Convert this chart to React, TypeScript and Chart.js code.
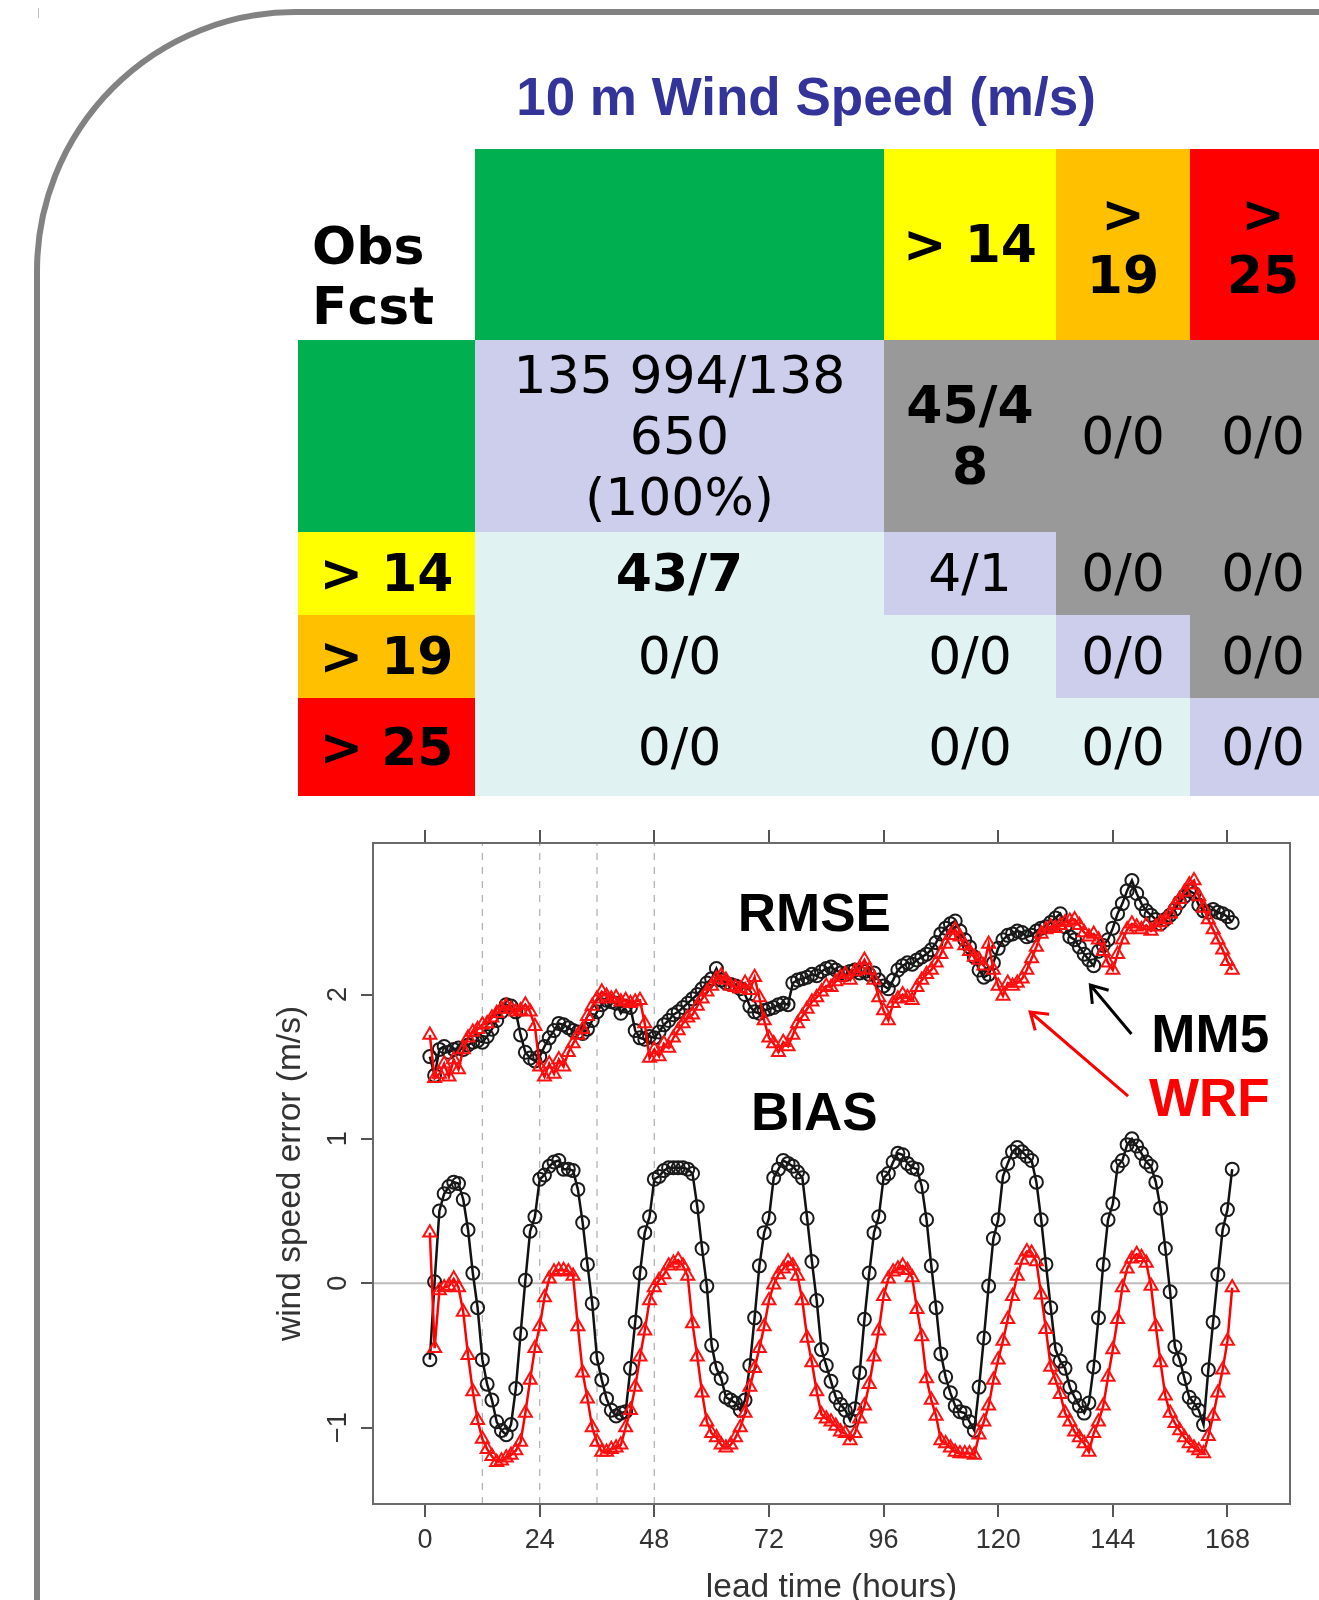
import React, { useEffect, useRef } from "react";
import { Chart, registerables } from "chart.js";

Chart.register(...registerables);

// ---------- data ----------
const leadHours = Array.from({ length: 169 }, (_, i) => i + 1);

const biasMM5 = [
  -0.53, 0.01, 0.50, 0.62, 0.67, 0.70, 0.69, 0.58, 0.37, 0.07, -0.17, -0.53, -0.70, -0.81, -0.96, -1.02, -1.05, -0.98, -0.73, -0.35, 0.02, 0.36, 0.46, 0.72,
  0.75, 0.81, 0.84, 0.85, 0.79, 0.79, 0.78, 0.65, 0.42, 0.13, -0.14, -0.52, -0.67, -0.80, -0.88, -0.92, -0.90, -0.89, -0.59, -0.27, 0.07, 0.35, 0.46, 0.72,
  0.74, 0.78, 0.80, 0.80, 0.80, 0.80, 0.79, 0.76, 0.53, 0.24, -0.02, -0.43, -0.59, -0.66, -0.79, -0.81, -0.83, -0.88, -0.81, -0.57, -0.24, 0.12, 0.35, 0.45,
  0.73, 0.79, 0.85, 0.83, 0.81, 0.77, 0.73, 0.45, 0.15, -0.12, -0.46, -0.57, -0.68, -0.79, -0.84, -0.88, -0.95, -0.87, -0.62, -0.25, 0.07, 0.35, 0.46, 0.73,
  0.76, 0.84, 0.90, 0.89, 0.83, 0.80, 0.79, 0.67, 0.44, 0.12, -0.17, -0.49, -0.65, -0.76, -0.85, -0.89, -0.90, -0.96, -1.02, -0.72, -0.38, -0.02, 0.31, 0.44,
  0.74, 0.83, 0.91, 0.94, 0.91, 0.88, 0.85, 0.70, 0.44, 0.13, -0.17, -0.46, -0.54, -0.59, -0.72, -0.79, -0.85, -0.90, -0.83, -0.58, -0.24, 0.13, 0.44, 0.55,
  0.81, 0.85, 0.96, 1.00, 0.95, 0.90, 0.84, 0.81, 0.70, 0.52, 0.24, -0.06, -0.44, -0.53, -0.66, -0.79, -0.83, -0.88, -0.98, -0.60, -0.27, 0.06, 0.37, 0.51,
  0.79,
];

const biasWRF = [
  0.35, -0.45, -0.05, -0.03, -0.02, 0.03, -0.03, -0.20, -0.50, -0.75, -0.95, -1.08, -1.15, -1.20, -1.24, -1.23, -1.21, -1.19, -1.16, -1.10, -0.90, -0.67, -0.45, -0.30,
  -0.10, 0.03, 0.08, 0.09, 0.09, 0.08, 0.05, -0.30, -0.62, -0.80, -1.00, -1.10, -1.17, -1.17, -1.15, -1.14, -1.12, -1.00, -0.88, -0.72, -0.51, -0.33, -0.12, -0.03,
  0.02, 0.06, 0.12, 0.14, 0.16, 0.12, 0.05, -0.28, -0.51, -0.76, -0.96, -1.04, -1.07, -1.12, -1.14, -1.12, -1.07, -1.00, -0.90, -0.72, -0.59, -0.45, -0.30, -0.12,
  -0.01, 0.06, 0.10, 0.15, 0.12, 0.05, -0.12, -0.38, -0.55, -0.75, -0.91, -0.94, -0.96, -0.99, -1.03, -1.04, -1.09, -1.04, -0.94, -0.85, -0.70, -0.51, -0.33, -0.09,
  0.03, 0.08, 0.10, 0.12, 0.09, 0.04, -0.18, -0.37, -0.66, -0.81, -0.92, -1.09, -1.11, -1.14, -1.17, -1.18, -1.18, -1.18, -1.19, -1.05, -0.96, -0.85, -0.67, -0.53,
  -0.40, -0.25, -0.09, 0.05, 0.16, 0.22, 0.21, 0.15, -0.08, -0.32, -0.58, -0.67, -0.77, -0.90, -0.96, -1.03, -1.07, -1.11, -1.17, -1.04, -0.96, -0.85, -0.65, -0.46,
  -0.25, -0.03, 0.10, 0.17, 0.20, 0.18, 0.14, -0.02, -0.30, -0.55, -0.78, -0.90, -0.97, -1.02, -1.07, -1.11, -1.14, -1.16, -1.18, -1.06, -0.92, -0.76, -0.60, -0.40,
  -0.03,
];

const rmseMM5 = [
  1.57, 1.44, 1.62, 1.64, 1.60, 1.62, 1.63, 1.62, 1.65, 1.67, 1.68, 1.67, 1.71, 1.76, 1.82, 1.88, 1.93, 1.92, 1.88, 1.72, 1.60, 1.56, 1.54, 1.57,
  1.64, 1.70, 1.75, 1.80, 1.79, 1.77, 1.75, 1.74, 1.73, 1.76, 1.82, 1.88, 1.93, 1.96, 1.95, 1.94, 1.87, 1.92, 1.91, 1.75, 1.70, 1.69, 1.71, 1.70,
  1.74, 1.79, 1.82, 1.86, 1.88, 1.91, 1.94, 1.97, 2.00, 2.04, 2.08, 2.11, 2.18, 2.10, 2.08, 2.07, 2.06, 2.04, 2.00, 1.92, 1.88, 1.87, 1.89, 1.90,
  1.91, 1.93, 1.94, 1.93, 2.08, 2.10, 2.11, 2.12, 2.14, 2.13, 2.16, 2.18, 2.19, 2.17, 2.15, 2.14, 2.16, 2.17, 2.15, 2.16, 2.14, 2.15, 2.10, 2.06,
  2.04, 2.10, 2.17, 2.20, 2.22, 2.21, 2.24, 2.26, 2.28, 2.31, 2.36, 2.42, 2.46, 2.49, 2.51, 2.44, 2.38, 2.33, 2.26, 2.17, 2.12, 2.14, 2.22, 2.32,
  2.38, 2.41, 2.42, 2.44, 2.43, 2.40, 2.41, 2.44, 2.46, 2.47, 2.50, 2.53, 2.56, 2.47, 2.40, 2.38, 2.33, 2.28, 2.24, 2.20, 2.30, 2.34, 2.38, 2.46,
  2.56, 2.63, 2.72, 2.79, 2.70, 2.63, 2.58, 2.55, 2.52, 2.49, 2.52, 2.55, 2.59, 2.64, 2.68, 2.72, 2.70, 2.62, 2.58, 2.57, 2.59, 2.57, 2.56, 2.54,
  2.50,
];

const rmseWRF = [
  1.72, 1.42, 1.45, 1.52, 1.43, 1.55, 1.48, 1.62, 1.70, 1.74, 1.76, 1.79, 1.80, 1.84, 1.87, 1.90, 1.92, 1.90, 1.88, 1.89, 1.93, 1.88, 1.78, 1.50,
  1.43, 1.52, 1.45, 1.55, 1.50, 1.60, 1.66, 1.72, 1.76, 1.85, 1.92, 1.97, 2.02, 1.99, 1.97, 1.98, 1.95, 1.96, 1.94, 1.95, 1.96, 1.80, 1.56, 1.62,
  1.57, 1.66, 1.63, 1.70, 1.75, 1.80, 1.84, 1.86, 1.92, 1.97, 2.02, 2.06, 2.11, 2.13, 2.10, 2.06, 2.05, 2.04, 2.08, 2.03, 2.12, 1.98, 1.82, 1.70,
  1.66, 1.60, 1.67, 1.64, 1.72, 1.80, 1.85, 1.90, 1.95, 1.98, 2.02, 2.06, 2.05, 2.09, 2.12, 2.14, 2.10, 2.16, 2.18, 2.24, 2.17, 2.10, 1.98, 1.89,
  1.82, 1.94, 1.97, 2.00, 1.98, 1.96, 2.05, 2.10, 2.14, 2.17, 2.22, 2.28, 2.35, 2.41, 2.45, 2.40, 2.34, 2.30, 2.26, 2.24, 2.20, 2.35, 2.17, 2.06,
  1.99, 2.08, 2.06, 2.08, 2.11, 2.17, 2.25, 2.33, 2.42, 2.45, 2.47, 2.46, 2.48, 2.50, 2.51, 2.52, 2.48, 2.43, 2.40, 2.42, 2.38, 2.30, 2.22, 2.17,
  2.28, 2.38, 2.45, 2.49, 2.47, 2.45, 2.48, 2.44, 2.47, 2.50, 2.52, 2.56, 2.62, 2.66, 2.71, 2.76, 2.79, 2.68, 2.60, 2.52, 2.45, 2.38, 2.31, 2.23,
  2.17,
];

const xTickValues = [0, 24, 48, 72, 96, 120, 144, 168];
const yTickValues = [-1, 0, 1, 2];
const refHours = [12, 24, 36, 48];
const X_MIN = -10.9;
const X_MAX = 181.1;
const Y_MIN = -1.53;
const Y_MAX = 3.05;

const xTitle = "lead time (hours)";
const yTitle = "wind speed error (m/s)";

const chartLabels = [
  { text: "RMSE", x: 81.5, y: 2.54, color: "#000000" },
  { text: "BIAS", x: 81.5, y: 1.16, color: "#000000" },
  { text: "MM5", x: 164.4, y: 1.7, color: "#000000" },
  { text: "WRF", x: 164.2, y: 1.26, color: "#ff0000" },
];
const arrowNotes = [
  { fromX: 147.9, fromY: 1.726, toX: 139.3, toY: 2.066, color: "#000000" },
  { fromX: 147.2, fromY: 1.296, toX: 126.7, toY: 1.879, color: "#ff0000" },
];

const pageTitle = "10 m Wind Speed (m/s)";
const cornerText = "Obs\nFcst";
const obsHeaders = ["", "> 14", ">\n19", ">\n25"];
const fcstHeaders = ["", "> 14", "> 19", "> 25"];
const cellValues = [
  ["135 994/138\n650\n(100%)", "45/4\n8", "0/0", "0/0"],
  ["43/7", "4/1", "0/0", "0/0"],
  ["0/0", "0/0", "0/0", "0/0"],
  ["0/0", "0/0", "0/0", "0/0"],
];

// ---------- styling / layout ----------
const levelColors = ["#00B050", "#FFFF00", "#FFC000", "#FF0000"];
const colEdges = [298, 475, 884, 1056, 1190, 1336];
const rowEdges = [149, 340, 532, 615, 698, 796];
const boldCells = new Set(["0-1", "1-0"]);
const SANS = "'Liberation Sans', Arial, sans-serif";
const TABLE_FONT = "'DejaVu Sans', Verdana, sans-serif";

const toXY = (vals: number[]) => vals.map((v, i) => ({ x: leadHours[i], y: v }));

const overlayPlugin = {
  id: "overlay",
  afterDraw(chart: any) {
    const { ctx, chartArea, scales } = chart;
    const xs = scales.x;
    const ys = scales.y;
    ctx.save();
    ctx.strokeStyle = "#6a6a6a";
    ctx.lineWidth = 2;
    ctx.strokeRect(chartArea.left, chartArea.top, chartArea.right - chartArea.left, chartArea.bottom - chartArea.top);

    ctx.font = `bold 53px ${SANS}`;
    ctx.textAlign = "center";
    ctx.textBaseline = "middle";
    for (const l of chartLabels) {
      ctx.fillStyle = l.color;
      ctx.fillText(l.text, xs.getPixelForValue(l.x), ys.getPixelForValue(l.y));
    }

    for (const a of arrowNotes) {
      const x1 = xs.getPixelForValue(a.fromX);
      const y1 = ys.getPixelForValue(a.fromY);
      const x2 = xs.getPixelForValue(a.toX);
      const y2 = ys.getPixelForValue(a.toY);
      const ang = Math.atan2(y1 - y2, x1 - x2);
      const head = 19;
      const spread = (34 * Math.PI) / 180;
      ctx.strokeStyle = a.color;
      ctx.lineWidth = 3;
      ctx.lineCap = "butt";
      ctx.beginPath();
      ctx.moveTo(x1, y1);
      ctx.lineTo(x2, y2);
      ctx.moveTo(x2 + head * Math.cos(ang - spread), y2 + head * Math.sin(ang - spread));
      ctx.lineTo(x2, y2);
      ctx.lineTo(x2 + head * Math.cos(ang + spread), y2 + head * Math.sin(ang + spread));
      ctx.stroke();
    }
    ctx.restore();
  },
};

function buildConfig(): any {
  const red = {
    borderColor: "#ff0000",
    borderWidth: 2.5,
    pointStyle: "triangle",
    pointRadius: 7.5,
    pointBorderWidth: 2,
    pointBorderColor: "#ff1010",
    pointBackgroundColor: "rgba(0,0,0,0)",
    tension: 0,
    fill: false,
  };
  const black = {
    borderColor: "#111111",
    borderWidth: 2.5,
    pointStyle: "circle",
    pointRadius: 6.5,
    pointBorderWidth: 2,
    pointBorderColor: "#1a1a1a",
    pointBackgroundColor: "rgba(0,0,0,0)",
    tension: 0,
    fill: false,
  };
  const refLines = refHours.map((h) => ({
    label: `ref ${h}`,
    data: [
      { x: h, y: Y_MIN },
      { x: h, y: Y_MAX },
    ],
    borderColor: "#b4b4b4",
    borderWidth: 1.3,
    borderDash: [7, 7],
    pointRadius: 0,
    fill: false,
  }));
  const zeroLine = {
    label: "zero",
    data: [
      { x: X_MIN, y: 0 },
      { x: X_MAX, y: 0 },
    ],
    borderColor: "#bdbdbd",
    borderWidth: 2,
    pointRadius: 0,
    fill: false,
  };
  const tickFont = { family: SANS, size: 27 };
  const fixedTicks = (vals: number[]) => (scale: any) => {
    scale.ticks = vals.map((v) => ({ value: v }));
  };
  return {
    type: "line",
    data: {
      datasets: [
        { label: "WRF RMSE", data: toXY(rmseWRF), ...red },
        { label: "WRF BIAS", data: toXY(biasWRF), ...red },
        { label: "MM5 RMSE", data: toXY(rmseMM5), ...black },
        { label: "MM5 BIAS", data: toXY(biasMM5), ...black },
        ...refLines,
        zeroLine,
      ],
    },
    options: {
      animation: false,
      responsive: false,
      maintainAspectRatio: false,
      events: [],
      layout: { padding: { top: 29, right: 29, bottom: 0, left: 0 } },
      plugins: { legend: { display: false }, tooltip: { enabled: false } },
      scales: {
        x: {
          type: "linear",
          position: "bottom",
          min: X_MIN,
          max: X_MAX,
          afterBuildTicks: fixedTicks(xTickValues),
          afterFit: (s: any) => {
            s.height = 126;
          },
          border: { display: false },
          grid: { display: true, drawOnChartArea: false, drawTicks: true, tickLength: 13, color: "#555555", lineWidth: 2 },
          ticks: { font: tickFont, color: "#333333", padding: 7, autoSkip: false, maxRotation: 0, minRotation: 0, callback: (v: any) => String(v) },
          title: { display: true, text: xTitle, font: { family: SANS, size: 33.5 }, color: "#333333", padding: { top: 0, bottom: 22 } },
        },
        xTop: {
          type: "linear",
          position: "top",
          min: X_MIN,
          max: X_MAX,
          afterBuildTicks: fixedTicks(xTickValues),
          afterFit: (s: any) => {
            s.height = 14;
          },
          border: { display: false },
          grid: { display: true, drawOnChartArea: false, drawTicks: true, tickLength: 13, color: "#555555", lineWidth: 2 },
          ticks: { display: false },
        },
        y: {
          type: "linear",
          position: "left",
          min: Y_MIN,
          max: Y_MAX,
          afterBuildTicks: fixedTicks(yTickValues),
          afterFit: (s: any) => {
            s.width = 123;
          },
          border: { display: false },
          grid: { display: true, drawOnChartArea: false, drawTicks: true, tickLength: 12, color: "#555555", lineWidth: 2 },
          ticks: {
            font: tickFont,
            color: "#333333",
            minRotation: 90,
            maxRotation: 90,
            crossAlign: "center",
            padding: 7,
            autoSkip: false,
            callback: (v: any) => (v < 0 ? "\u2212" + Math.abs(v) : String(v)),
          },
          title: { display: true, text: yTitle, font: { family: SANS, size: 33.5 }, color: "#333333", padding: { top: 21, bottom: 0 } },
        },
      },
    },
    plugins: [overlayPlugin],
  };
}

export default function App() {
  const canvasRef = useRef<HTMLCanvasElement | null>(null);

  useEffect(() => {
    const canvas = canvasRef.current;
    if (!canvas) return;
    const chart = new Chart(canvas, buildConfig());
    return () => chart.destroy();
  }, []);

  const cells: React.ReactNode[] = [];
  const cellBox = (r: number, c: number) => ({
    position: "absolute" as const,
    left: colEdges[c],
    top: rowEdges[r],
    width: colEdges[c + 1] - colEdges[c],
    height: rowEdges[r + 1] - rowEdges[r],
    display: "flex",
    alignItems: "center",
    justifyContent: "center",
    textAlign: "center" as const,
    whiteSpace: "pre-line" as const,
    fontFamily: TABLE_FONT,
    fontSize: 52,
    lineHeight: "61px",
    color: "#000",
    boxSizing: "border-box" as const,
  });

  cells.push(
    <div
      key="corner"
      style={{
        ...cellBox(0, 0),
        justifyContent: "flex-start",
        alignItems: "flex-end",
        textAlign: "left",
        paddingLeft: 14,
        paddingBottom: 4,
        lineHeight: "60px",
        fontWeight: "bold",
      }}
    >
      {cornerText}
    </div>
  );
  obsHeaders.forEach((t, j) => {
    cells.push(
      <div key={`oh${j}`} style={{ ...cellBox(0, j + 1), background: levelColors[j], fontWeight: "bold" }}>
        {t}
      </div>
    );
  });
  fcstHeaders.forEach((t, i) => {
    cells.push(
      <div key={`fh${i}`} style={{ ...cellBox(i + 1, 0), background: levelColors[i], fontWeight: "bold" }}>
        {t}
      </div>
    );
  });
  cellValues.forEach((row, i) => {
    row.forEach((t, j) => {
      const bg = i === j ? "#CDCDEC" : j > i ? "#999999" : "#E1F2F2";
      cells.push(
        <div
          key={`c${i}-${j}`}
          style={{ ...cellBox(i + 1, j + 1), background: bg, fontWeight: boldCells.has(`${i}-${j}`) ? "bold" : "normal" }}
        >
          {t}
        </div>
      );
    });
  });

  return (
    <div
      style={{
        position: "fixed",
        left: 0,
        top: 0,
        width: 1319,
        height: 1600,
        overflow: "hidden",
        background: "#ffffff",
      }}
    >
      <div
        style={{
          position: "absolute",
          left: 34,
          top: 9,
          width: 1600,
          height: 1900,
          border: "6px solid #828282",
          borderTopLeftRadius: 262,
          boxSizing: "border-box",
        }}
      />
      <div style={{ position: "absolute", left: 38, top: 8, width: 1, height: 10, background: "#bdbdbd" }} />
      <div
        style={{
          position: "absolute",
          left: 806,
          top: 70,
          transform: "translateX(-50%)",
          whiteSpace: "nowrap",
          fontFamily: SANS,
          fontWeight: "bold",
          fontSize: 53,
          lineHeight: "53px",
          color: "#333399",
        }}
      >
        {pageTitle}
      </div>
      {cells}
      <canvas
        ref={canvasRef}
        width={1069}
        height={830}
        style={{ position: "absolute", left: 250, top: 800, width: 1069, height: 830 }}
      />
    </div>
  );
}
